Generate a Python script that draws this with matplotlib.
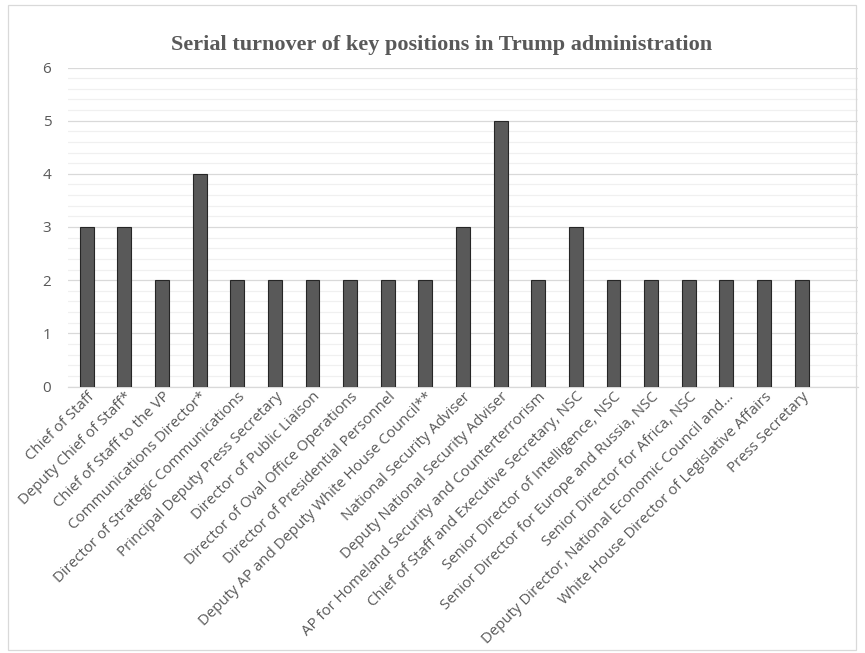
import matplotlib
matplotlib.use("Agg")
import matplotlib.pyplot as plt
from matplotlib.patches import Rectangle
from matplotlib.ticker import MultipleLocator

categories = [
    "Chief of Staff",
    "Deputy Chief of Staff*",
    "Chief of Staff to the VP",
    "Communications Director*",
    "Director of Strategic Communications",
    "Principal Deputy Press Secretary",
    "Director of Public Liaison",
    "Director of Oval Office Operations",
    "Director of Presidential Personnel",
    "Deputy AP and Deputy White House Council**",
    "National Security Adviser",
    "Deputy National Security Adviser",
    "AP for Homeland Security and Counterterrorism",
    "Chief of Staff and Executive Secretary, NSC",
    "Senior Director of Intelligence, NSC",
    "Senior Director for Europe and Russia, NSC",
    "Senior Director for Africa, NSC",
    "Deputy Director, National Economic Council and...",
    "White House Director of Legislative Affairs",
    "Press Secretary",
]
values = [3, 3, 2, 4, 2, 2, 2, 2, 2, 2, 3, 5, 2, 3, 2, 2, 2, 2, 2, 2]
yticks = [0, 1, 2, 3, 4, 5, 6]
title = "Serial turnover of key positions in Trump administration"

W, H = 865, 653
fig = plt.figure(figsize=(W / 100, H / 100), dpi=100)
fig.patch.set_facecolor("white")

left, right = 68 / W, 858 / W
bottom, top = 1 - 386.5 / H, 1 - 67.5 / H
ax = fig.add_axes([left, bottom, right - left, top - bottom])

x = list(range(len(categories)))
ax.bar(x, values, width=0.37, color="#595959", edgecolor="#262626", linewidth=0.8, zorder=3)

ax.set_xlim(-0.5, 20.5)
ax.set_ylim(0, 6)
ax.set_yticks(yticks)
ax.yaxis.set_minor_locator(MultipleLocator(0.2))
ax.grid(axis="y", which="major", color="#d9d9d9", linewidth=0.9, zorder=0)
ax.grid(axis="y", which="minor", color="#f0f0f0", linewidth=0.9, zorder=0)
ax.grid(axis="x", visible=False)
for s in ["top", "right", "left"]:
    ax.spines[s].set_visible(False)
ax.spines["bottom"].set_color("#d9d9d9")
ax.spines["bottom"].set_linewidth(0.9)

ax.tick_params(axis="y", which="both", length=0, pad=12, labelsize=11, labelcolor="#595959")
ax.tick_params(axis="x", which="both", length=0, pad=2)
for lbl in ax.get_yticklabels():
    lbl.set_fontfamily("Open Sans")

ax.set_xticks(x)
ax.set_xticklabels(categories, rotation=45, ha="right", va="top", rotation_mode="anchor",
                   fontsize=10.8, color="#595959", fontfamily="Open Sans")

fig.text(442 / W, 1 - 45 / H, title, ha="center", va="center", fontsize=16, fontweight="bold",
         color="#595959", fontfamily="Liberation Serif")

fig.patches.append(Rectangle((8 / W, 1 - 650 / H), (856 - 8) / W, (650 - 5) / H,
                             transform=fig.transFigure, fill=False, edgecolor="#d9d9d9",
                             linewidth=0.9))

fig.savefig("out.png", dpi=100)
